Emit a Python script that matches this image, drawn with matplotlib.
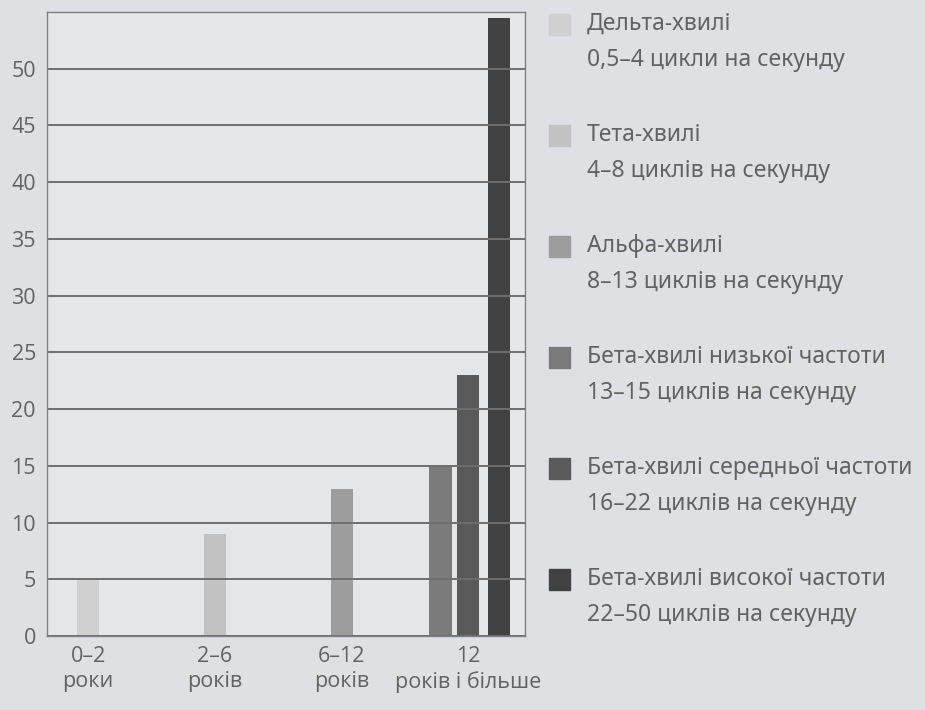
import matplotlib
matplotlib.use('Agg')
import matplotlib.pyplot as plt
import numpy as np

# age groups on the x axis
age_groups = ['0–2\nроки', '2–6\nроків', '6–12\nроків', '12\nроків і більше']

# wave types (legend) and what each one reaches
wave_names = ['Дельта-хвилі', 'Тета-хвилі', 'Альфа-хвилі',
              'Бета-хвилі низької частоти', 'Бета-хвилі середньої частоти',
              'Бета-хвилі високої частоти']
wave_ranges = ['0,5–4 цикли на секунду', '4–8 циклів на секунду',
               '8–13 циклів на секунду', '13–15 циклів на секунду',
               '16–22 циклів на секунду', '22–50 циклів на секунду']
wave_values = [5, 9, 13, 15, 23, 54.5]
wave_group = [0, 1, 2, 3, 3, 3]
wave_offset = [0, 0, 0, -0.22, 0, 0.24]
wave_colors = ['#d0d0d0', '#c2c2c2', '#9d9d9d', '#7a7a7a', '#5a5a5a', '#424242']

yticks = [0, 5, 10, 15, 20, 25, 30, 35, 40, 45, 50]

bg = '#dfe0e3'
txt = '#626262'

fig = plt.figure(figsize=(9.25, 7.10), dpi=100, facecolor=bg)
ax = fig.add_axes([47/925, 1-636/710, (525-47)/925, (636-12)/710])
ax.set_facecolor('#e5e6e7')

for i in range(len(wave_values)):
    x = wave_group[i] + wave_offset[i]
    ax.bar(x, wave_values[i], width=0.175, color=wave_colors[i], zorder=1)

ax.set_ylim(0, 55)
ax.set_xlim(-0.325, 3.447)
ax.set_yticks(yticks)
ax.set_xticks(range(len(age_groups)))
ax.set_xticklabels(age_groups, linespacing=1.25)
for a in yticks:
    ax.axhline(a, color='#6e6e6e', lw=1.4, zorder=2)
ax.tick_params(length=0, labelsize=15.5, colors=txt)
ax.tick_params(axis='y', pad=8)
ax.tick_params(axis='x', pad=7)
for s in ax.spines.values():
    s.set_color('#808080')
    s.set_linewidth(1.0)
for lab in ax.get_xticklabels() + ax.get_yticklabels():
    lab.set_fontfamily('Open Sans')

# legend drawn by hand: square + two lines of text
for i in range(len(wave_names)):
    yc = 1 - (24 + 111*i)/710
    fig.patches.append(plt.Rectangle((549/925, yc - 11/710), 21/925, 21/710,
                                     transform=fig.transFigure, color=wave_colors[i]))
    fig.text(587/925, yc, wave_names[i], fontsize=16.5, color=txt,
             va='center', ha='left', family='Noto Sans')
    fig.text(587/925, yc - 36/710, wave_ranges[i], fontsize=16.5, color=txt,
             va='center', ha='left', family='Noto Sans')

fig.savefig('out.png', dpi=100, facecolor=bg)
